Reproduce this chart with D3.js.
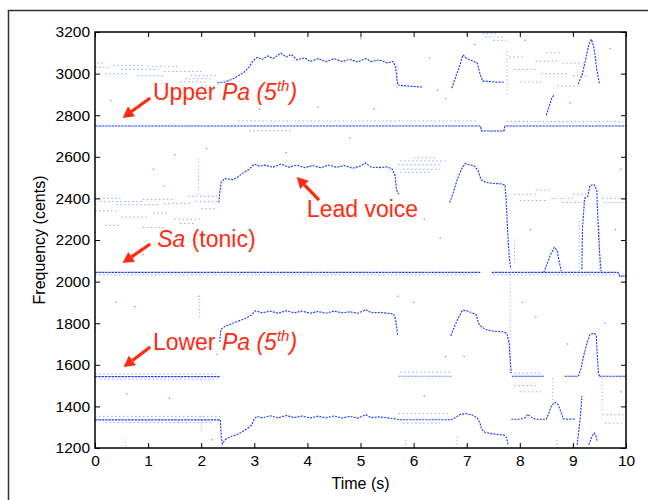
<!DOCTYPE html>
<html>
<head>
<meta charset="utf-8">
<title>Pitch tracks</title>
<script src="https://cdn.jsdelivr.net/npm/d3@7"></script>
<style>
  body { margin: 0; background: #fff; }
  svg { font-family: "Liberation Sans", Arial, sans-serif; }
</style>
</head>
<body>
<div id="chart"></div>
<script>
// axis ticks
const timeTicks = [0, 1, 2, 3, 4, 5, 6, 7, 8, 9, 10];
const centTicks = [1200, 1400, 1600, 1800, 2000, 2200, 2400, 2600, 2800, 3000, 3200];

// drones, [time s, cents]
const upperPa = [[0, 2748], [7.26, 2748], [7.28, 2724], [7.7, 2724], [7.72, 2748], [10, 2748]];
const saA = [[0, 2044], [7.27, 2044]];
const saB = [[7.47, 2044], [9.85, 2044], [9.88, 2026], [10, 2026]];
const lowerPaA = [[0, 1543], [2.36, 1543]];
const lowerPaB = [[5.72, 1545], [6.72, 1545]];
const lowerPaC = [[7.85, 1545], [8.45, 1545]];
const lowerPaD = [[8.85, 1545], [9.1, 1545]];
const lowerPaE = [[9.5, 1545], [10, 1545]];
const lowDrone = [[0, 1335], [2.36, 1335]];

// melodic tracks
const topTrack1 = [[2.3, 2955], [2.45, 2960], [2.6, 2975], [2.7, 2990], [2.8, 3005], [2.9, 3030], [2.97, 3060], [3.05, 3078], [3.15, 3068], [3.25, 3085], [3.35, 3072], [3.5, 3098], [3.6, 3080], [3.7, 3092], [3.8, 3066], [3.95, 3076], [4.05, 3058], [4.2, 3072], [4.35, 3058], [4.5, 3072], [4.65, 3058], [4.8, 3068], [4.95, 3056], [5.1, 3072], [5.2, 3058], [5.35, 3066], [5.5, 3052], [5.62, 3058], [5.66, 3030], [5.7, 2945], [5.9, 2940], [6.18, 2935]];
const topTrack2 = [[6.72, 2930], [6.8, 2990], [6.87, 3040], [6.93, 3090], [7.0, 3072], [7.1, 3062], [7.2, 3050], [7.25, 3000], [7.3, 2965], [7.5, 2960], [7.72, 2958]];
const topPeakLate = [[9.1, 2950], [9.18, 3000], [9.25, 3080], [9.3, 3140], [9.35, 3165], [9.4, 3120], [9.45, 3020], [9.5, 2950]];
const leadTrack1 = [[2.33, 2380], [2.35, 2430], [2.38, 2480], [2.45, 2495], [2.6, 2490], [2.7, 2505], [2.8, 2525], [2.9, 2540], [3.0, 2565], [3.1, 2555], [3.2, 2560], [3.35, 2550], [3.5, 2565], [3.65, 2550], [3.8, 2560], [3.95, 2548], [4.1, 2558], [4.25, 2548], [4.4, 2560], [4.55, 2550], [4.7, 2558], [4.85, 2545], [5.0, 2555], [5.1, 2570], [5.2, 2550], [5.35, 2548], [5.5, 2552], [5.6, 2540], [5.65, 2510], [5.68, 2440], [5.72, 2420]];
const leadTrack2 = [[6.68, 2380], [6.75, 2430], [6.82, 2490], [6.9, 2540], [6.97, 2568], [7.05, 2562], [7.15, 2555], [7.22, 2530], [7.27, 2490], [7.35, 2478], [7.5, 2472], [7.65, 2470], [7.72, 2465], [7.74, 2400], [7.76, 2300], [7.78, 2200], [7.8, 2120], [7.83, 2060]];
const leadPeakLate = [[9.17, 2060], [9.18, 2250], [9.22, 2400], [9.28, 2410], [9.32, 2462], [9.4, 2466], [9.45, 2440], [9.47, 2300], [9.5, 2150], [9.53, 2050]];
const midTrack1 = [[2.35, 1710], [2.37, 1770], [2.45, 1785], [2.55, 1795], [2.65, 1805], [2.75, 1815], [2.85, 1825], [2.95, 1840], [3.02, 1860], [3.15, 1850], [3.3, 1858], [3.45, 1848], [3.6, 1860], [3.75, 1850], [3.9, 1858], [4.05, 1848], [4.2, 1856], [4.35, 1848], [4.5, 1858], [4.65, 1850], [4.8, 1855], [4.95, 1848], [5.1, 1865], [5.2, 1850], [5.35, 1852], [5.5, 1848], [5.62, 1845], [5.66, 1820], [5.69, 1760], [5.7, 1740]];
const midTrack2 = [[6.7, 1740], [6.78, 1790], [6.85, 1830], [6.92, 1862], [7.0, 1860], [7.1, 1850], [7.18, 1840], [7.22, 1800], [7.27, 1785], [7.35, 1770], [7.5, 1762], [7.7, 1758], [7.76, 1750], [7.8, 1700], [7.82, 1620], [7.84, 1560]];
const lowerPaPeak = [[9.1, 1545], [9.15, 1580], [9.2, 1640], [9.26, 1700], [9.32, 1745], [9.4, 1752], [9.44, 1740], [9.46, 1640], [9.48, 1560], [9.5, 1545]];
const lowTrack1 = [[2.36, 1335], [2.38, 1250], [2.4, 1220], [2.45, 1240], [2.55, 1255], [2.65, 1262], [2.75, 1275], [2.85, 1290], [2.95, 1310], [3.0, 1340], [3.05, 1352], [3.15, 1345], [3.3, 1355], [3.45, 1345], [3.6, 1356], [3.75, 1346], [3.9, 1354], [4.05, 1344], [4.2, 1353], [4.35, 1345], [4.5, 1354], [4.65, 1344], [4.8, 1352], [4.95, 1344], [5.1, 1360], [5.2, 1346], [5.35, 1350], [5.5, 1345], [5.65, 1340], [5.72, 1336], [6.7, 1336]];
const lowTrack2 = [[6.7, 1336], [6.78, 1345], [6.88, 1362], [6.98, 1365], [7.1, 1360], [7.2, 1345], [7.25, 1320], [7.28, 1290], [7.35, 1275], [7.5, 1268], [7.7, 1262], [7.75, 1250], [7.78, 1215]];
const lowTrack3 = [[7.84, 1338], [8.0, 1338], [8.1, 1345], [8.15, 1362], [8.2, 1350], [8.3, 1338], [8.5, 1338], [8.55, 1370], [8.6, 1405], [8.66, 1420], [8.72, 1410], [8.78, 1370], [8.82, 1340], [8.9, 1338], [9.05, 1340]];
const lowTrack4 = [[9.08, 1215], [9.12, 1300], [9.15, 1380], [9.17, 1450]];
const lowTrack5 = [[9.3, 1215], [9.35, 1250], [9.4, 1272], [9.43, 1262], [9.46, 1230]];
const saBump = [[8.45, 2044], [8.52, 2090], [8.58, 2130], [8.65, 2165], [8.7, 2150], [8.74, 2100], [8.78, 2050]];
const streak = [[8.5, 2800], [8.55, 2840], [8.6, 2880], [8.65, 2900]];

// faint horizontal runs [from s, to s, cents]
const faintRuns = [
  [0.0, 0.3, 3030], [0.35, 0.9, 3040], [0.5, 1.2, 3020], [1.0, 1.6, 3035], [1.3, 2.0, 3010],
  [1.8, 2.3, 2990], [0.2, 0.6, 3000], [0.8, 1.3, 2990], [1.6, 2.1, 2960], [2.0, 2.3, 2940],
  [1.7, 2.2, 2975], [0.05, 0.2, 3050],
  [0.0, 0.5, 2400], [0.1, 0.9, 2385], [0.4, 1.2, 2370], [0.9, 1.5, 2395], [1.3, 1.8, 2375],
  [1.75, 2.3, 2410], [1.9, 2.3, 2385], [0.0, 0.4, 2340], [0.5, 1.0, 2310], [1.1, 1.4, 2330],
  [1.5, 2.0, 2300], [2.0, 2.3, 2350], [0.2, 0.5, 2270], [0.9, 1.3, 2260], [1.6, 1.9, 2280],
  [2.7, 7.2, 2772], [7.75, 9.95, 2770], [2.9, 3.7, 2725],
  [0.0, 7.2, 2032], [7.5, 9.8, 2032],
  [0.0, 2.35, 1556], [0.1, 2.3, 1530], [5.75, 6.7, 1565], [7.9, 8.4, 1560],
  [0.0, 2.35, 1352], [0.2, 2.2, 1322], [5.72, 6.65, 1365], [5.8, 6.5, 1320],
  [5.75, 6.6, 2580], [5.72, 6.55, 2562], [5.8, 6.5, 2540], [5.75, 6.3, 2525], [6.0, 6.45, 2595],
  [7.3, 7.6, 3192], [7.35, 7.7, 3176], [7.5, 7.75, 3160],
  [7.8, 8.1, 3080], [7.9, 8.3, 3020], [8.0, 8.4, 2960], [8.3, 8.7, 3060], [8.4, 8.9, 3000],
  [8.5, 8.8, 3100], [8.7, 9.1, 2940], [8.8, 9.2, 3050], [9.0, 9.3, 2990],
  [7.9, 8.3, 2420], [8.0, 8.5, 2390], [8.3, 8.6, 2440], [8.6, 9.0, 2400], [8.8, 9.2, 2380],
  [9.0, 9.25, 2420], [9.55, 9.95, 2400], [9.6, 10.0, 2380],
  [7.9, 8.3, 1500], [8.0, 8.4, 1470], [9.55, 10.0, 1360], [9.6, 9.95, 1320]
];

// faint vertical streaks [at s, from cents, to cents]
const faintStreaks = [
  [1.95, 2420, 2600], [1.97, 1830, 1930], [2.0, 1280, 1360], [5.69, 2930, 3040],
  [7.76, 2900, 3110], [7.82, 1560, 2040], [7.9, 2090, 2210], [9.12, 2050, 2300],
  [9.5, 2060, 2280], [8.62, 1430, 1540], [9.55, 1380, 1540], [0.57, 1210, 1260],
  [5.85, 1200, 1250], [6.82, 1200, 1260], [8.7, 1200, 1250]
];

// isolated dots
const dots = [
  [0.3, 2870], [1.1, 2540], [1.5, 2610], [2.1, 2640], [0.9, 2130], [1.3, 2460],
  [0.4, 1900], [0.75, 1880], [1.95, 1930], [2.05, 1700], [2.3, 1650], [0.6, 1460],
  [1.4, 1440], [2.2, 1240], [3.1, 2830], [4.2, 2840], [5.25, 2830], [6.3, 3075],
  [6.45, 2920], [6.6, 2880], [5.0, 3170], [4.8, 2690], [3.6, 2620], [6.2, 2300],
  [6.5, 2210], [5.7, 1930], [6.0, 1900], [6.6, 1640], [6.2, 1450], [6.95, 1640],
  [8.2, 2250], [8.05, 1900], [8.3, 1830], [8.9, 1700], [9.6, 1800], [9.8, 2250],
  [9.9, 2540], [9.7, 3120], [8.1, 3160], [7.15, 3140], [8.95, 2860], [9.9, 1470]
];

// annotations, placed in data units
const notes = [
  { parts: [["Upper ", "normal"], ["Pa", "italic"], [" (5", "italic"], ["th", "sup"], [")", "italic"]], at: [1.09, 2873], tail: [1.04, 2883], tip: [0.52, 2787] },
  { parts: [["Lead voice", "normal"]], at: [3.99, 2311], tail: [4.22, 2392], tip: [3.8, 2503] },
  { parts: [["Sa", "italic"], [" (tonic)", "normal"]], at: [1.17, 2166], tail: [1.04, 2181], tip: [0.52, 2089] },
  { parts: [["Lower ", "normal"], ["Pa", "italic"], [" (5", "italic"], ["th", "sup"], [")", "italic"]], at: [1.09, 1671], tail: [1.04, 1686], tip: [0.54, 1589] }
];

const W = 648, H = 500;
const pL = 95, pR = 626, pT = 32, pB = 448;
const blue = "#1f3cff";
const red = "#ff2a10";

const x = d3.scaleLinear().domain([0, 10]).range([pL, pR]);
const y = d3.scaleLinear().domain([1200, 3200]).range([pB, pT]);

const svg = d3.select("#chart").append("svg")
  .attr("width", W).attr("height", H);

// outer frame
svg.append("path")
  .attr("d", "M8.5,500 V10.5 H648")
  .attr("fill", "none").attr("stroke", "#333").attr("stroke-width", 1.5);

svg.append("clipPath").attr("id", "plot")
  .append("rect").attr("x", pL).attr("y", pT)
  .attr("width", pR - pL).attr("height", pB - pT);

const data = svg.append("g").attr("clip-path", "url(#plot)");
const line = d3.line().x(d => x(d[0])).y(d => y(d[1]));

// faint runs
data.selectAll(".run").data(faintRuns).enter().append("path")
  .attr("d", d => line([[d[0], d[2]], [d[1], d[2]]]))
  .attr("fill", "none").attr("stroke", blue).attr("stroke-opacity", 0.45)
  .attr("stroke-width", 1).attr("stroke-dasharray", "1.5 2.5");

data.selectAll(".streak").data(faintStreaks).enter().append("path")
  .attr("d", d => line([[d[0], d[1]], [d[0], d[2]]]))
  .attr("fill", "none").attr("stroke", blue).attr("stroke-opacity", 0.5)
  .attr("stroke-width", 1).attr("stroke-dasharray", "1 2.5");

data.selectAll(".dot").data(dots).enter().append("rect")
  .attr("x", d => x(d[0]) - 0.6).attr("y", d => y(d[1]) - 0.6)
  .attr("width", 1.3).attr("height", 1.3)
  .attr("fill", blue).attr("fill-opacity", 0.6);

// drones
const drones = [upperPa, saA, saB, lowerPaA, lowerPaC, lowerPaD, lowerPaE, lowDrone];
data.selectAll(".drone").data(drones).enter().append("path")
  .attr("d", line)
  .attr("fill", "none").attr("stroke", blue)
  .attr("stroke-width", 1.2).attr("stroke-dasharray", "2.5 0.8");

data.append("path").datum(lowerPaB).attr("d", line)
  .attr("fill", "none").attr("stroke", blue).attr("stroke-opacity", 0.6)
  .attr("stroke-width", 1.2).attr("stroke-dasharray", "2 1");

// melodic tracks
const tracks = [topTrack1, topTrack2, topPeakLate, leadTrack1, leadTrack2, leadPeakLate,
  midTrack1, midTrack2, lowerPaPeak, lowTrack1, lowTrack2, lowTrack3, lowTrack4, lowTrack5,
  saBump, streak];
data.selectAll(".track").data(tracks).enter().append("path")
  .attr("d", line)
  .attr("fill", "none").attr("stroke", blue)
  .attr("stroke-width", 1.15).attr("stroke-dasharray", "2 1.2");

// axes, ticks pointing inward on all four sides
const fmt = d3.format("d");
svg.append("g").attr("transform", `translate(0,${pB})`)
  .call(d3.axisBottom(x).tickValues(timeTicks).tickFormat(fmt).tickSize(-5).tickPadding(7));
svg.append("g").attr("transform", `translate(${pL},0)`)
  .call(d3.axisLeft(y).tickValues(centTicks).tickFormat(fmt).tickSize(-5).tickPadding(5));
svg.append("g").attr("transform", `translate(0,${pT})`)
  .call(d3.axisTop(x).tickValues(timeTicks).tickSize(-5).tickFormat(""));
svg.append("g").attr("transform", `translate(${pR},0)`)
  .call(d3.axisRight(y).tickValues(centTicks).tickSize(-5).tickFormat(""));

svg.selectAll(".domain").remove();
svg.selectAll(".tick line").attr("stroke", "#000").attr("stroke-width", 1);
svg.selectAll(".tick text").attr("font-size", 15.5).attr("fill", "#000")
  .attr("font-family", "'Liberation Sans', Arial, sans-serif");

svg.append("rect")
  .attr("x", pL).attr("y", pT)
  .attr("width", pR - pL).attr("height", pB - pT)
  .attr("fill", "none").attr("stroke", "#000").attr("stroke-width", 1.5);

svg.append("text")
  .attr("x", (pL + pR) / 2).attr("y", 489)
  .attr("text-anchor", "middle").attr("font-size", 16)
  .text("Time (s)");

svg.append("text")
  .attr("transform", `translate(45,${(pT + pB) / 2}) rotate(-90)`)
  .attr("text-anchor", "middle").attr("font-size", 16)
  .text("Frequency (cents)");

// annotations
const ann = svg.append("g");
notes.forEach(n => {
  const t = ann.append("text")
    .attr("x", x(n.at[0])).attr("y", y(n.at[1]))
    .attr("font-size", 23).attr("fill", red);
  n.parts.forEach(p => {
    const s = t.append("tspan").text(p[0]);
    if (p[1] === "italic") s.attr("font-style", "italic");
    if (p[1] === "sup") s.attr("font-style", "italic").attr("font-size", 15).attr("dy", -9);
    if (p[1] !== "sup" && p[0] === ")") s.attr("dy", 9);
  });

  const x0 = x(n.tail[0]), y0 = y(n.tail[1]);
  const x1 = x(n.tip[0]), y1 = y(n.tip[1]);
  const a = Math.atan2(y1 - y0, x1 - x0);
  const len = 11, half = 6;
  const bx = x1 - len * Math.cos(a), by = y1 - len * Math.sin(a);
  ann.append("line")
    .attr("x1", x0).attr("y1", y0).attr("x2", bx).attr("y2", by)
    .attr("stroke", red).attr("stroke-width", 3.2);
  ann.append("path")
    .attr("d", `M${x1},${y1} L${bx + half * Math.sin(a)},${by - half * Math.cos(a)} L${bx - half * Math.sin(a)},${by + half * Math.cos(a)} Z`)
    .attr("fill", red);
});
</script>
</body>
</html>
